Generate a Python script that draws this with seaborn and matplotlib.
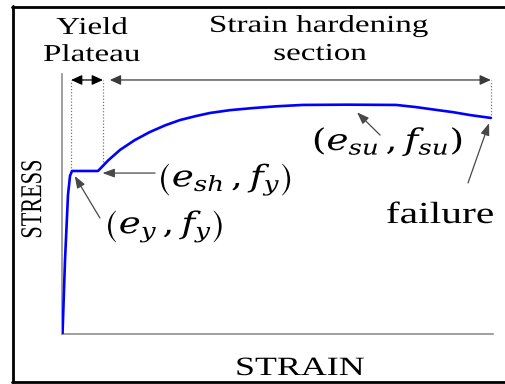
import matplotlib
matplotlib.use("Agg")
import matplotlib.pyplot as plt
import seaborn as sns
import pandas as pd
from matplotlib.lines import Line2D
from matplotlib.patheffects import AbstractPathEffect
from matplotlib.transforms import Affine2D

# Idealised steel stress-strain curve (arbitrary units, 0-100 on both axes)
strain = [0.12, 0.70, 1.39, 1.86, 2.32, 8.35, 10.8, 13.46, 16.8, 20.4, 24.0,
          27.4, 31.0, 34.3, 39.0, 44.3, 50.0, 55.9, 66.0, 77.5, 82.0, 86.8,
          90.8, 94.7, 99.5]
stress = [0.0, 28.5, 53.5, 60.8, 62.7, 62.7, 66.9, 70.8, 74.5, 77.7, 80.3,
          82.3, 83.8, 85.0, 86.1, 86.9, 87.6, 88.1, 88.2, 88.1, 87.3, 86.2,
          85.3, 84.2, 83.1]

# Characteristic points
e_y, f_y = 2.32, 62.7
e_sh = 8.35
e_su, f_su = 66.0, 88.2
e_fail, f_fail = 99.5, 83.1

# Boundaries of the yield plateau and the strain-hardening section
bounds = [2.1, 9.5, 99.5]
bound_tops = [62.7, 65.0, 83.1]
span_level = 97.7

point_labels = [r"$\left(e_y\,,f_y\right)$", r"$\left(e_{sh}\,,f_y\right)$",
                r"$\left(e_{su}\,,f_{su}\right)$"]

SERIF = ["Liberation Serif", "DejaVu Serif"]


class WideGlyphs(AbstractPathEffect):
    """Draw text paths stretched horizontally about their centre."""

    def __init__(self, sx=1.35):
        super().__init__()
        self.sx = sx

    def draw_path(self, renderer, gc, tpath, affine, rgbFace=None):
        ext = tpath.get_extents(affine)
        cx = 0.5 * (ext.x0 + ext.x1)
        wide = Affine2D().translate(-cx, 0).scale(self.sx, 1).translate(cx, 0)
        renderer.draw_path(gc, tpath, affine + wide, rgbFace)


sns.set_theme(style="white")
plt.rcParams["font.family"] = SERIF
plt.rcParams["mathtext.fontset"] = "dejavuserif"

fig = plt.figure(figsize=(5.06, 3.84), dpi=100)
ax = fig.add_axes([62 / 506, 50 / 384, 431 / 506, 260 / 384])

df = pd.DataFrame({"strain": strain, "stress": stress})
sns.lineplot(data=df, x="strain", y="stress", sort=False, estimator=None,
             color="#0000ff", lw=1.9, ax=ax, zorder=3)

ax.set_xlim(0, 100)
ax.set_ylim(0, 100)
ax.set_xticks([])
ax.set_yticks([])
for side in ("top", "right"):
    ax.spines[side].set_visible(False)
for side in ("left", "bottom"):
    ax.spines[side].set_color("#8f8f8f")
    ax.spines[side].set_linewidth(1.2)

wide = [WideGlyphs(1.36)]

# Axis labels
ax.set_xlabel("STRAIN", fontsize=19, color="black", family=SERIF,
              path_effects=wide)
ax.xaxis.label.set_va("baseline")
ax.xaxis.set_label_coords((300 - 62) / 431, (334 - 375) / 260)
ax.set_ylabel("STRESS", fontsize=16, color="black", family=SERIF,
              path_effects=wide)
ax.yaxis.label.set_va("center")
ax.yaxis.set_label_coords((34 - 62) / 431, (334 - 199) / 260)

# Dotted section boundaries
for xb, yb in zip(bounds, bound_tops):
    ax.plot([xb, xb], [yb, span_level], ls=(0, (1, 1.5)), color="#777777",
            lw=0.9, zorder=2)

# Section span arrows
span_style = dict(arrowstyle="<|-|>,head_length=0.55,head_width=0.25",
                  color="black", lw=0.9, shrinkA=0, shrinkB=0)
ax.annotate("", xy=(bounds[0], span_level), xytext=(bounds[1], span_level),
            arrowprops=span_style, annotation_clip=False)
long_style = dict(span_style)
long_style["color"] = "#3a3a3a"
ax.annotate("", xy=(bounds[1] + 1.6, span_level), xytext=(bounds[2], span_level),
            arrowprops=long_style, annotation_clip=False)

# Section titles
title_kw = dict(ha="center", va="baseline", fontsize=17.5, color="black",
                family=SERIF, path_effects=wide, clip_on=False)
ax.text(6.96, 115.4, "Yield", **title_kw)
ax.text(6.96, 105.0, "Plateau", **title_kw)
ax.text(59.6, 116.2, "Strain hardening", **title_kw)
ax.text(59.9, 105.4, "section", **title_kw)

# Pointer arrows to the characteristic points
ptr = dict(arrowstyle="-|>,head_length=0.6,head_width=0.22", color="#484848",
           lw=0.9, shrinkA=0, shrinkB=2)
ax.annotate("", xy=(e_y + 0.3, f_y - 1.0), xytext=(8.8, 44.6), arrowprops=ptr)
ax.annotate("", xy=(e_sh + 0.4, f_y - 0.8), xytext=(21.6, 61.9), arrowprops=ptr)
ax.annotate("", xy=(e_su + 2.0, f_su - 2.2), xytext=(73.8, 76.5), arrowprops=ptr)
ax.annotate("", xy=(e_fail - 0.2, f_fail - 1.0), xytext=(94.2, 58.1),
            arrowprops=ptr)

# Point labels
math_kw = dict(ha="center", va="baseline", fontsize=21.5, color="black",
               path_effects=[WideGlyphs(1.25)])
ax.text(23.7, 38.8, point_labels[0], **math_kw)
ax.text(37.8, 56.8, point_labels[1], **math_kw)
ax.text(75.6, 70.8, point_labels[2], **math_kw)
ax.text(87.7, 42.7, "failure", ha="center", va="baseline", fontsize=22,
        color="black", family=SERIF, path_effects=wide)

# Frame around the figure (left, top and bottom edges)
frame = dict(color="black", lw=2.0, transform=fig.transFigure)
fig.add_artist(Line2D([13 / 506, 13 / 506], [1 - 6 / 384, 2.5 / 384], **frame))
fig.add_artist(Line2D([12 / 506, 1.0], [1 - 7 / 384, 1 - 7 / 384], **frame))
fig.add_artist(Line2D([12 / 506, 1.0], [2.5 / 384, 2.5 / 384], **frame))

fig.savefig("out.png", dpi=100, facecolor="white")
